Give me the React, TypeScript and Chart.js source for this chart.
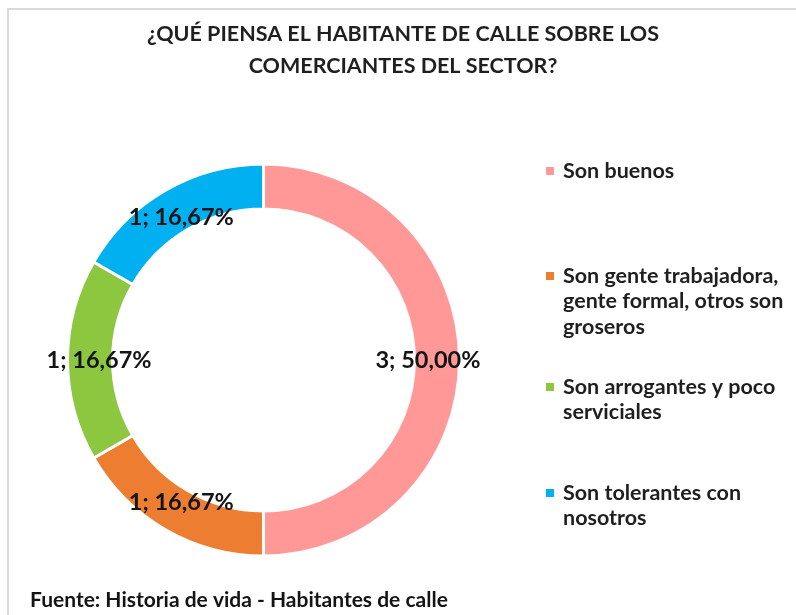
import React, { useEffect, useRef } from "react";
import { Chart, registerables } from "chart.js";

Chart.register(...registerables);

const TITLE_LINES = ["¿QUÉ PIENSA EL HABITANTE DE CALLE SOBRE LOS", "COMERCIANTES DEL SECTOR?"];
const CATEGORIES = [
  "Son buenos",
  "Son gente trabajadora, gente formal, otros son groseros",
  "Son arrogantes y poco serviciales",
  "Son tolerantes con nosotros",
];
const LEGEND_LINES = [
  ["Son buenos"],
  ["Son gente trabajadora,", "gente formal, otros son", "groseros"],
  ["Son arrogantes y poco", "serviciales"],
  ["Son tolerantes con", "nosotros"],
];
const VALUES = [3, 1, 1, 1];
const COLORS = ["#FF9896", "#ED7D31", "#8DC63F", "#00B0F0"];
const FOOTER = "Fuente: Historia de vida - Habitantes de calle";

const FONT = "Lato, 'Noto Sans', sans-serif";

const fmtPct = (v: number) => (v * 100).toFixed(2).replace(".", ",") + "%";

const decorPlugin = {
  id: "decor",
  beforeDraw(chart: any) {
    const ctx = chart.ctx;
    ctx.save();
    ctx.fillStyle = "#ffffff";
    ctx.fillRect(0, 0, chart.width, chart.height);
    ctx.strokeStyle = "#d9d9d9";
    ctx.lineWidth = 2;
    ctx.beginPath();
    ctx.moveTo(8, chart.height);
    ctx.lineTo(8, 9);
    ctx.lineTo(chart.width, 9);
    ctx.stroke();
    ctx.restore();
  },
  afterDraw(chart: any) {
    const ctx = chart.ctx;
    ctx.save();
    // title
    ctx.fillStyle = "#1f1f1f";
    ctx.font = `bold 21.5px ${FONT}`;
    ctx.textAlign = "center";
    ctx.textBaseline = "middle";
    TITLE_LINES.forEach((t, i) => ctx.fillText(t, 403, 34 + i * 32));

    // data labels
    const meta = chart.getDatasetMeta(0);
    const total = VALUES.reduce((a, b) => a + b, 0);
    ctx.font = `bold 23.5px ${FONT}`;
    ctx.fillStyle = "#141414";
    meta.data.forEach((arc: any, i: number) => {
      const p = arc.getProps(["x", "y", "startAngle", "endAngle", "innerRadius", "outerRadius"], true);
      const mid = (p.startAngle + p.endAngle) / 2;
      const r = p.innerRadius + 0.3 * (p.outerRadius - p.innerRadius);
      const x = p.x + Math.cos(mid) * r;
      const y = p.y + Math.sin(mid) * r;
      ctx.fillText(`${VALUES[i]}; ${fmtPct(VALUES[i] / total)}`, x, y);
    });

    // legend
    const tops = [171, 276, 387, 493];
    ctx.textAlign = "left";
    ctx.font = `bold 21.5px ${FONT}`;
    LEGEND_LINES.forEach((lines, i) => {
      ctx.fillStyle = COLORS[i];
      ctx.fillRect(546, tops[i] - 4, 8, 8);
      ctx.fillStyle = "#1f1f1f";
      lines.forEach((l, j) => ctx.fillText(l, 563, tops[i] + j * 25.5));
    });

    // footer
    ctx.font = `bold 21px ${FONT}`;
    ctx.fillStyle = "#141414";
    ctx.fillText(FOOTER, 30, 600);
    ctx.restore();
  },
};

export default function App() {
  const ref = useRef<HTMLCanvasElement>(null);
  useEffect(() => {
    if (!ref.current) return;
    const chart = new Chart(ref.current, {
      type: "doughnut",
      data: {
        labels: CATEGORIES,
        datasets: [
          {
            data: VALUES,
            backgroundColor: COLORS,
            borderColor: "#ffffff",
            borderWidth: 3,
          },
        ],
      },
      options: {
        responsive: false,
        animation: false,
        cutout: "77%",
        layout: { padding: { left: 66, right: 335, top: 161, bottom: 56 } },
        plugins: {
          legend: { display: false },
          title: { display: false },
          tooltip: { enabled: false },
        },
      },
      plugins: [decorPlugin],
    });
    return () => chart.destroy();
  }, []);
  return (
    <div style={{ position: "fixed", left: 0, top: 0, width: 796, height: 615, background: "#fff" }}>
      <canvas ref={ref} width={796} height={615} style={{ display: "block" }} />
    </div>
  );
}
